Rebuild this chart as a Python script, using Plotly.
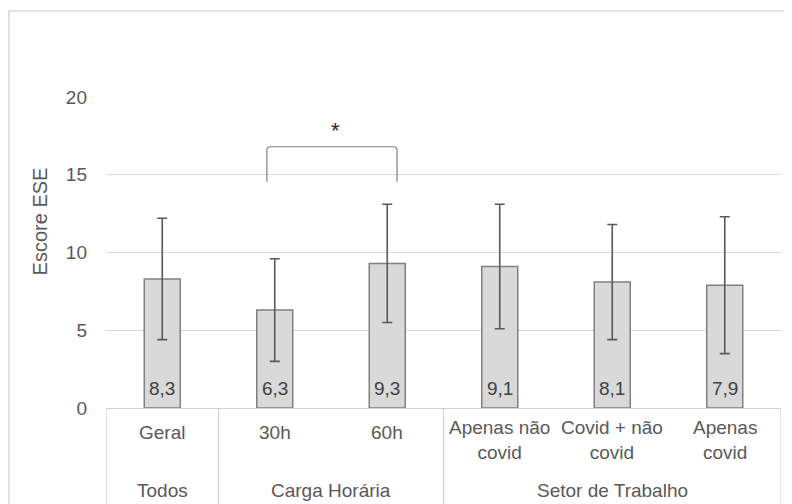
import plotly.graph_objects as go

# ---- data ----
categories = ["Geral", "30h", "60h", "Apenas não<br>covid", "Covid + não<br>covid", "Apenas<br>covid"]
groups = ["Todos", "Carga Horária", "Carga Horária", "Setor de Trabalho", "Setor de Trabalho", "Setor de Trabalho"]
means = [8.3, 6.3, 9.3, 9.1, 8.1, 7.9]
sds = [3.9, 3.3, 3.8, 4.0, 3.7, 4.4]
y_ticks = [0, 5, 10, 15, 20]
comparison = ("30h", "60h")
comparison_label = "*"
bracket_top = 16.8
bracket_bottom = 14.55

# page body has an 8px margin -> work in reference pixels, offset by 8
OFF = 8
REF_W, REF_H = 792, 504
REF_L, REF_R, REF_T, REF_B = 106, 781, 97, 408
W, H = REF_W - OFF, REF_H - OFF
ML = REF_L - OFF
MT = REF_T - OFF
MR = W - (REF_R - OFF)
MB = H - (REF_B - OFF)
plot_h = REF_B - REF_T
plot_w = REF_R - REF_L
GRAY_TXT = "#595959"
FONT = "Liberation Sans, Arial, sans-serif"

x = list(range(len(categories)))

fig = go.Figure()
fig.add_trace(go.Bar(
    x=x, y=means, width=0.32,
    marker=dict(color="#d9d9d9", line=dict(color="#808080", width=1.5)),
    error_y=dict(type="data", array=sds, visible=True, color="#595959", thickness=1.6, width=5),
    hoverinfo="skip",
))

annotations = []
shapes = []

# value labels at the base of the bars
for i, v in enumerate(means):
    annotations.append(dict(x=i, y=0, xref="x", yref="y", text=f"{v:.1f}".replace(".", ","),
                            showarrow=False, yanchor="middle", yshift=20,
                            font=dict(size=19, color="#404040", family=FONT)))

def shift_from_ref(py):
    return -(py - REF_B)

# category labels (row 1)
for i, c in enumerate(categories):
    nlines = c.count("<br>") + 1
    py = 432 if nlines == 1 else 440
    annotations.append(dict(x=i, y=0, xref="x", yref="paper", text=c, showarrow=False,
                            yanchor="middle", yshift=shift_from_ref(py),
                            font=dict(size=19, color=GRAY_TXT, family=FONT)))

# group labels (row 2) and separators
bottom_paper = -(REF_H - REF_B + 10) / plot_h
runs = []
start = 0
for i in range(1, len(groups) + 1):
    if i == len(groups) or groups[i] != groups[start]:
        runs.append((groups[start], start, i - 1))
        start = i
for g, a, b in runs:
    annotations.append(dict(x=(a + b) / 2, y=0, xref="x", yref="paper", text=g, showarrow=False,
                            yanchor="middle", yshift=shift_from_ref(490),
                            font=dict(size=19, color=GRAY_TXT, family=FONT)))
boundaries = [-0.5] + [b + 0.5 for _, _, b in runs]
for bx in boundaries:
    shapes.append(dict(type="line", xref="x", yref="paper", x0=bx, x1=bx, y0=0, y1=bottom_paper,
                       line=dict(color="#d0d0d0", width=1.2)))

# significance bracket
i0 = categories.index(comparison[0]) - 0.07
i1 = categories.index(comparison[1]) + 0.087
rx, ry = 0.03, 0.25
path = (f"M {i0},{bracket_bottom} L {i0},{bracket_top - ry} Q {i0},{bracket_top} {i0 + rx},{bracket_top} "
        f"L {i1 - rx},{bracket_top} Q {i1},{bracket_top} {i1},{bracket_top - ry} L {i1},{bracket_bottom}")
shapes.append(dict(type="path", xref="x", yref="y", path=path, line=dict(color="#7f7f7f", width=1.2)))
annotations.append(dict(x=(i0 + i1) / 2 + 0.03, y=bracket_top, xref="x", yref="y", text=comparison_label,
                        showarrow=False, yanchor="bottom", yshift=2,
                        font=dict(size=22, color="#262626", family=FONT)))

# y-axis title
annotations.append(dict(x=0, y=12, xref="paper", yref="y", text="Escore ESE", textangle=-90,
                        showarrow=False, xanchor="center", yanchor="middle", xshift=40 - REF_L,
                        font=dict(size=20, color=GRAY_TXT, family=FONT)))

# outer chart border (top & left)
lx = (9 - REF_L) / plot_w
ty = (REF_B - 11) / plot_h
shapes.append(dict(type="path", xref="paper", yref="paper",
                   path=f"M {lx},{bottom_paper} L {lx},{ty} L {(REF_W + 5 - REF_L) / plot_w},{ty}",
                   line=dict(color="#d9d9d9", width=1.5)))

fig.update_layout(
    width=W, height=H,
    margin=dict(l=ML, r=MR, t=MT, b=MB),
    paper_bgcolor="white", plot_bgcolor="white",
    showlegend=False,
    font=dict(family=FONT, color=GRAY_TXT, size=19),
    xaxis=dict(range=[-0.5, len(categories) - 0.5], showticklabels=False, showgrid=False,
               zeroline=False, showline=True, linecolor="#d0d0d0", linewidth=1.2, ticks=""),
    yaxis=dict(range=[0, 20], tickvals=y_ticks, showgrid=True, gridcolor="#d9d9d9", gridwidth=1.2,
               zeroline=False, showline=False, ticks="", ticklabelstandoff=18,
               tickfont=dict(size=19, color=GRAY_TXT, family=FONT), fixedrange=True),
    annotations=annotations, shapes=shapes,
)

fig.write_html("out.html")
